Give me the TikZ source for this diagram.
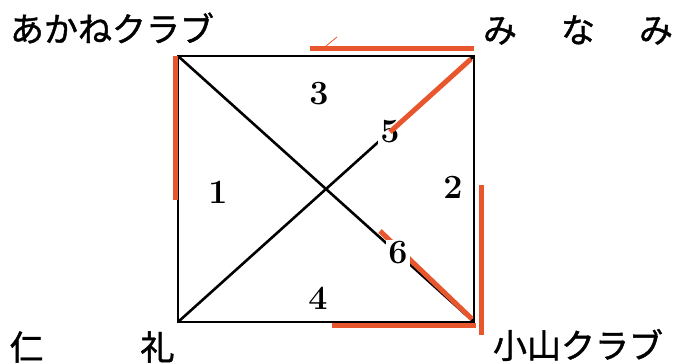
\documentclass[tikz,border=0pt]{standalone}
\usepackage{fontspec}
\newfontfamily\jpfont[FakeBold=1.2]{Noto Sans CJK JP}
\usepackage{xcolor}
\usepackage{tikz}
\usetikzlibrary{calc}
\definecolor{penRed}{HTML}{E8562E}

\begin{document}
\begin{tikzpicture}[x=1pt, y=-1pt,
    num/.style={font=\fontsize{34}{34}\selectfont\bfseries, fill=white, inner sep=2pt},
    place/.style={font=\jpfont\fontsize{34}{34}\selectfont, inner sep=0pt},
    redline/.style={penRed, line width=5pt}]
    \useasboundingbox (0,0) rectangle (673,363);
    % corners of the square
    \coordinate (akane) at (178,56);
    \coordinate (minami) at (474,56);
    \coordinate (nirei) at (178,322);
    \coordinate (koyama) at (474,322);
    \draw[line width=2.8pt, line join=miter] (akane) -- (minami) -- (koyama) -- (nirei) -- cycle;
    \draw[line width=2.6pt] (akane) -- (koyama);
    \draw[line width=2.6pt] (nirei) -- (minami);
    % names of the corners
    \node[place] (lakane) at (112,28) {あかねクラブ};
    \node[place] (lminami) at (578,30) {み\hspace{44pt}な\hspace{44pt}み};
    \node[place] (lnirei) at (92,347) {仁\hspace{97pt}礼};
    \node[place] (lkoyama) at (578,345) {小山クラブ};
    % numbers of the roads
    \node[num, fill=none] (n1) at (218,192) {1};
    \node[num, fill=none] (n2) at (453,187) {2};
    \node[num, fill=none] (n3) at (319,94) {3};
    \node[num, fill=none] (n4) at (318,298) {4};
    \node[num] (n5) at (390,132) {5};
    % red pen marks
    \draw[redline] (310,49) -- (474,49);
    \draw[penRed, line width=0.8pt] (326,46) -- (337,37);
    \draw[redline] (175,56) -- (175,200);
    \draw[redline] (481,185) -- (481,335);
    \draw[redline] (332,326) -- (476,326);
    \draw[redline] (n5.center) -- ($(minami)+(-3,3)$);
    \draw[redline] (380,231) -- ($(koyama)+(-2,-3)$);
    \node[num] (n6) at (398,253) {6};
\end{tikzpicture}
\end{document}
